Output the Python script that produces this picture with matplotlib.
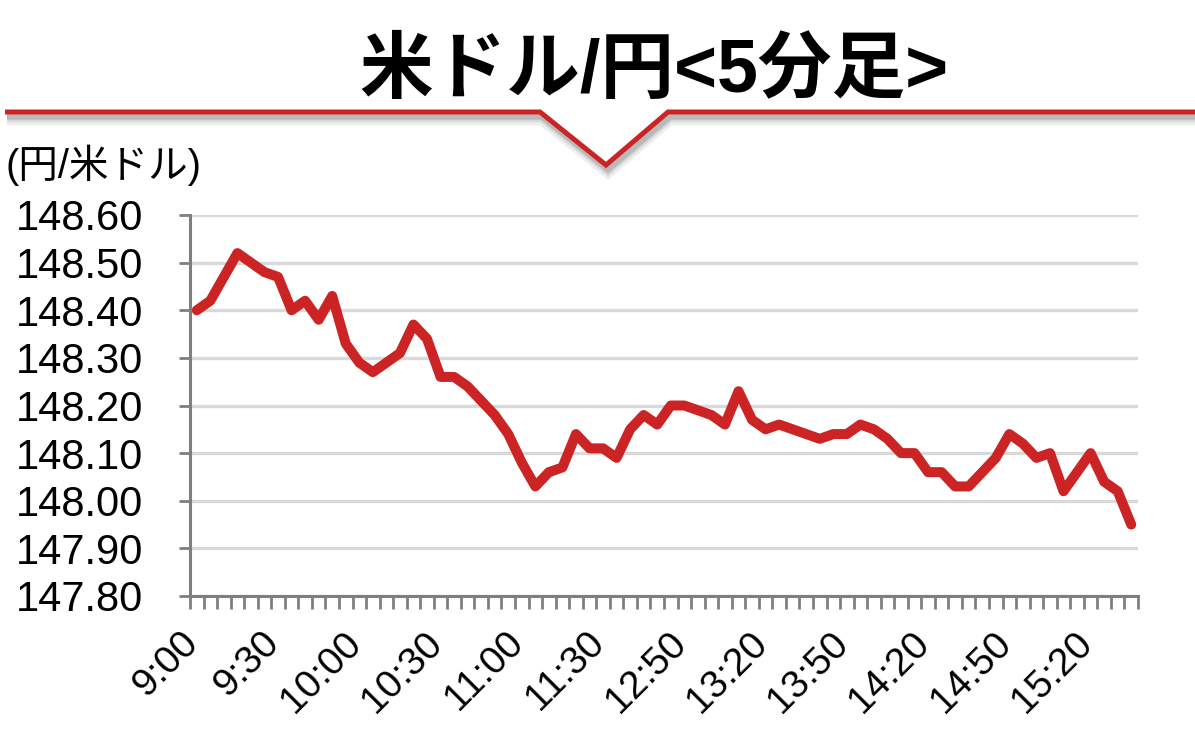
import matplotlib
matplotlib.use("Agg")
import matplotlib.pyplot as plt
from matplotlib.lines import Line2D
import matplotlib.transforms as mtransforms

# ---- data ----
times = [
    "9:00", "9:05", "9:10", "9:15", "9:20", "9:25", "9:30", "9:35", "9:40", "9:45",
    "9:50", "9:55", "10:00", "10:05", "10:10", "10:15", "10:20", "10:25", "10:30", "10:35",
    "10:40", "10:45", "10:50", "10:55", "11:00", "11:05", "11:10", "11:15", "11:20", "11:25",
    "11:30", "12:25", "12:30", "12:35", "12:40", "12:45", "12:50", "12:55", "13:00", "13:05",
    "13:10", "13:15", "13:20", "13:25", "13:30", "13:35", "13:40", "13:45", "13:50", "13:55",
    "14:00", "14:05", "14:10", "14:15", "14:20", "14:25", "14:30", "14:35", "14:40", "14:45",
    "14:50", "14:55", "15:00", "15:05", "15:10", "15:15", "15:20", "15:25", "15:30", "15:35",
]
usdjpy = [
    148.40, 148.42, 148.47, 148.52, 148.50, 148.48, 148.47, 148.40, 148.42, 148.38,
    148.43, 148.33, 148.29, 148.27, 148.29, 148.31, 148.37, 148.34, 148.26, 148.26,
    148.24, 148.21, 148.18, 148.14, 148.08, 148.03, 148.06, 148.07, 148.14, 148.11,
    148.11, 148.09, 148.15, 148.18, 148.16, 148.20, 148.20, 148.19, 148.18, 148.16,
    148.23, 148.17, 148.15, 148.16, 148.15, 148.14, 148.13, 148.14, 148.14, 148.16,
    148.15, 148.13, 148.10, 148.10, 148.06, 148.06, 148.03, 148.03, 148.06, 148.09,
    148.14, 148.12, 148.09, 148.10, 148.02, 148.06, 148.10, 148.04, 148.02, 147.95,
]
y_ticks = [147.80, 147.90, 148.00, 148.10, 148.20, 148.30, 148.40, 148.50, 148.60]
label_every = 6

title_text = "米ドル/円<5分足>"
unit_text = "(円/米ドル)"

RED = "#cc2424"
AXIS_GRAY = "#7f7f7f"
GRID_GRAY = "#d9d9d9"
FONTS = ["Liberation Sans", "Noto Sans CJK JP", "DejaVu Sans"]
plt.rcParams["font.family"] = FONTS

W, H = 1195, 751
fig = plt.figure(figsize=(W / 100, H / 100), dpi=100)

def fx(px):
    return px / W

def fy(py):
    return 1 - py / H

# ---- header decoration ----
hx = [5, 540, 606, 668, 1195]
hy = [112, 112, 165, 112, 112]
for off, a, lw in [(7, 0.10, 9), (6, 0.15, 6), (5, 0.25, 4)]:
    fig.add_artist(Line2D([fx(v + 2) for v in hx], [fy(v + off) for v in hy],
                          color="#606060", alpha=a, lw=lw, solid_joinstyle="miter",
                          solid_capstyle="butt"))
fig.add_artist(Line2D([fx(v) for v in hx], [fy(v) for v in hy], color=RED, lw=3.6,
                      solid_joinstyle="miter", solid_capstyle="butt"))

fig.text(fx(654), fy(72), title_text, ha="center", va="center", fontsize=53,
         fontweight="bold", family=["Liberation Sans", "Noto Sans CJK JP"], color="black")
fig.text(fx(6), fy(165), unit_text, ha="left", va="center", fontsize=28.5,
         family=["Liberation Sans", "Noto Sans CJK JP"], color="black")

# ---- axes ----
left, right, top, bottom = 190, 1138, 215, 596
ax = fig.add_axes([fx(left), fy(bottom), fx(right) - fx(left), fy(top) - fy(bottom)])

x = list(range(len(usdjpy)))
ax.plot(x, usdjpy, color=RED, lw=7.2, solid_joinstyle="round", solid_capstyle="round",
        zorder=3, clip_on=False)

ax.set_xlim(-0.5, len(usdjpy) - 0.5)
ax.set_ylim(y_ticks[0], y_ticks[-1])
ax.set_yticks(y_ticks)
ax.set_yticklabels([f"{v:.2f}" for v in y_ticks], fontsize=30, family="Liberation Sans")

ax.grid(axis="y", color=GRID_GRAY, lw=2.4, zorder=0)
ax.set_axisbelow(True)

# category ticks between points
ax.set_xticks([i - 0.5 for i in range(len(usdjpy) + 1)], minor=True)
ax.set_xticks(x[::label_every])
ax.set_xticklabels(times[::label_every], rotation=45, ha="right", va="center",
                   rotation_mode="anchor", fontsize=28, family="Liberation Sans")
ax.tick_params(axis="x", which="major", length=0, pad=30)
ax.tick_params(axis="x", which="minor", length=9.5, width=2, color=AXIS_GRAY, direction="out")
ax.tick_params(axis="y", length=8, width=2, color=AXIS_GRAY, direction="out", pad=26)

shift = mtransforms.ScaledTranslation(-4 / 100, 0, fig.dpi_scale_trans)
for lab in ax.get_xticklabels():
    lab.set_transform(lab.get_transform() + shift)

for s in ["top", "right"]:
    ax.spines[s].set_visible(False)
for s in ["left", "bottom"]:
    ax.spines[s].set_color(AXIS_GRAY)
    ax.spines[s].set_linewidth(2.2)

fig.savefig("out.png", dpi=100)
